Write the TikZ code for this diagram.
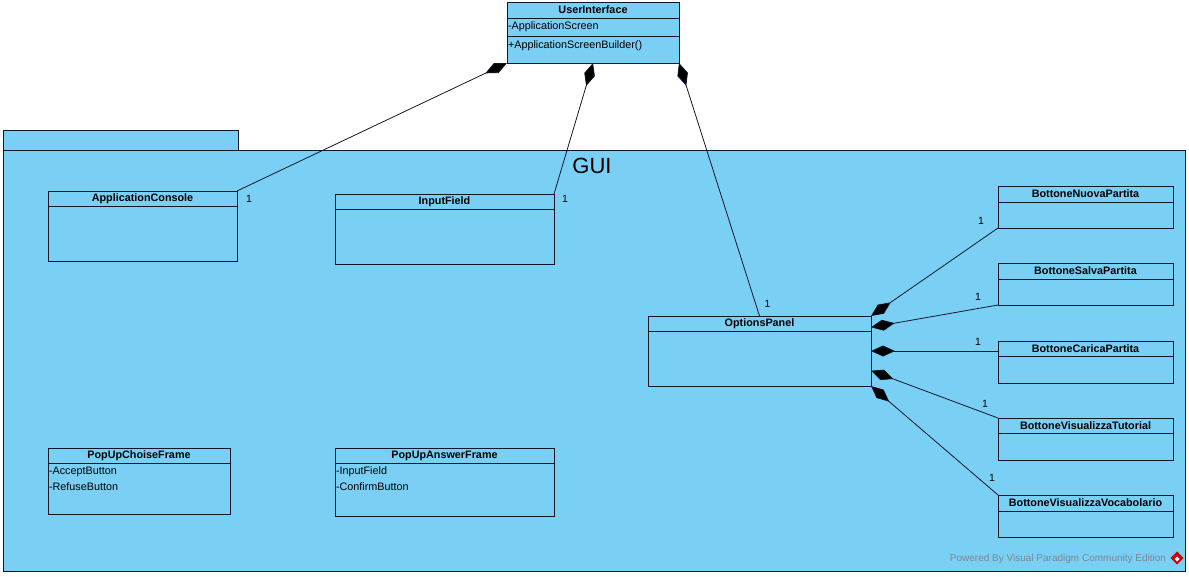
\documentclass[tikz,border=0pt]{standalone}
\usepackage{fontspec}
\setmainfont{Liberation Sans}
\usepackage{xcolor}
\usepackage{tikz}
\usetikzlibrary{shapes,arrows.meta,positioning,calc}

\definecolor{vpblue}{RGB}{122,207,245}
\definecolor{vpline}{RGB}{16,24,40}
\definecolor{vpgray}{RGB}{125,135,145}

\begin{document}
\begin{tikzpicture}[
  x=1pt, y=-1pt,
  every node/.style = {inner sep=0pt, outer sep=0pt, font=\fontsize{10.8}{12}\selectfont},
  package/.style = {rectangle, draw=vpline, line width=0.9pt, fill=vpblue},
  classbox/.style = {rectangle, draw=vpline, line width=0.9pt, fill=vpblue},
  classhead/.style = {rectangle, draw=vpline, line width=0.9pt, anchor=north,
      minimum height=15pt, font=\fontsize{10.8}{12}\selectfont\bfseries},
  attr/.style = {anchor=west},
  mult/.style = {font=\fontsize{10.5}{12}\selectfont},
  comp/.style = {draw=vpline, line width=0.8pt,
      -{Diamond[length=24pt,width=11pt,fill=black]}}
]
\useasboundingbox (0,0) rectangle (1189,576);

  % Package
  \node[package, minimum width=1182pt, minimum height=421pt] (gui) at (594,360.5) {};
  \node[package, minimum width=235pt, minimum height=20pt, anchor=south west] (guitab) at (gui.north west) {};
  \node[font=\fontsize{22}{26}\selectfont] (guilabel) at (592,166) {GUI};

  % Classi
  \node[classbox, minimum width=172pt, minimum height=61pt] (ui) at (593,32.5) {};
  \node[classhead, minimum width=172pt, minimum height=16pt] (uihead) at (ui.north) {UserInterface};
  \node[attr] (uiattr) at (508,27) {-ApplicationScreen};
  \draw[vpline, line width=0.9pt] (ui.west |- 0,36) -- (ui.east |- 0,36);
  \node[attr] (uiop) at (508,46) {+ApplicationScreenBuilder()};

  \node[classbox, minimum width=189pt, minimum height=70pt] (ac) at (142.5,226) {};
  \node[classhead, minimum width=189pt] (achead) at (ac.north) {ApplicationConsole};

  \node[classbox, minimum width=219pt, minimum height=70pt] (if) at (444.5,229) {};
  \node[classhead, minimum width=219pt] (ifhead) at (if.north) {InputField};

  \node[classbox, minimum width=223pt, minimum height=70pt] (op) at (759.5,351) {};
  \node[classhead, minimum width=223pt] (ophead) at (op.north) {OptionsPanel};

  \node[classbox, minimum width=175pt, minimum height=42pt] (bn) at (1085.5,207) {};
  \node[classhead, minimum width=175pt, minimum height=16pt] (bnhead) at (bn.north) {BottoneNuovaPartita};

  \node[classbox, minimum width=175pt, minimum height=42pt] (bs) at (1085.5,284) {};
  \node[classhead, minimum width=175pt, minimum height=16pt] (bshead) at (bs.north) {BottoneSalvaPartita};

  \node[classbox, minimum width=175pt, minimum height=42pt] (bc) at (1085.5,362) {};
  \node[classhead, minimum width=175pt] (bchead) at (bc.north) {BottoneCaricaPartita};

  \node[classbox, minimum width=175pt, minimum height=42pt] (bt) at (1085.5,439) {};
  \node[classhead, minimum width=175pt] (bthead) at (bt.north) {BottoneVisualizzaTutorial};

  \node[classbox, minimum width=175pt, minimum height=42pt] (bv) at (1085.5,516) {};
  \node[classhead, minimum width=175pt, minimum height=16pt] (bvhead) at (bv.north) {BottoneVisualizzaVocabolario};

  \node[classbox, minimum width=182pt, minimum height=66pt] (pc) at (139,481) {};
  \node[classhead, minimum width=182pt] (pchead) at (pc.north) {PopUpChoiseFrame};
  \node[attr] (pcaccept) at (49,472) {-AcceptButton};
  \node[attr] (pcrefuse) at (49,487) {-RefuseButton};

  \node[classbox, minimum width=219pt, minimum height=68pt] (pa) at (444.5,482) {};
  \node[classhead, minimum width=219pt] (pahead) at (pa.north) {PopUpAnswerFrame};
  \node[attr] (painput) at (336,472) {-InputField};
  \node[attr] (paconfirm) at (336,487) {-ConfirmButton};

  % Composizioni
  \draw[comp] (ac.north east) -- (ui.south west);
  \draw[comp] (if.north east) -- (ui.south);
  \draw[comp] (op.north) -- (ui.south east);
  \draw[comp] (bn.south west) -- (op.north east);
  \draw[comp] (bs.south west) -- (op.12);
  \draw[comp] (bc.west |- op.east) -- (op.east);
  \draw[comp] (bt.north west) -- (op.-10);
  \draw[comp] (bv.north west) -- (op.south east);

  % Molteplicita
  \node[mult] (m1) at ([shift={(12,8)}]ac.north east) {1};
  \node[mult] (m2) at ([shift={(11,5)}]if.north east) {1};
  \node[mult] (m3) at ([shift={(8,-12)}]op.north) {1};
  \node[mult] (m4) at ([shift={(-17,-7)}]bn.south west) {1};
  \node[mult] (m5) at ([shift={(-20,-8)}]bs.south west) {1};
  \node[mult] (m6) at ([shift={(-20,-9)}]bc.west |- op.east) {1};
  \node[mult] (m7) at ([shift={(-13,-14)}]bt.north west) {1};
  \node[mult] (m8) at ([shift={(-6,-17)}]bv.north west) {1};

  % Marchio
  \node[anchor=east, text=vpgray, font=\fontsize{10}{12}\selectfont] (wm) at (1166,559) {Powered By Visual Paradigm Community Edition};
  \node[diamond, fill=red!80!black, minimum size=13pt] (wmicon) at (1177,558) {};
  \node[diamond, fill=white, minimum size=5pt] (wmdot) at (1177,559) {};

\end{tikzpicture}
\end{document}
